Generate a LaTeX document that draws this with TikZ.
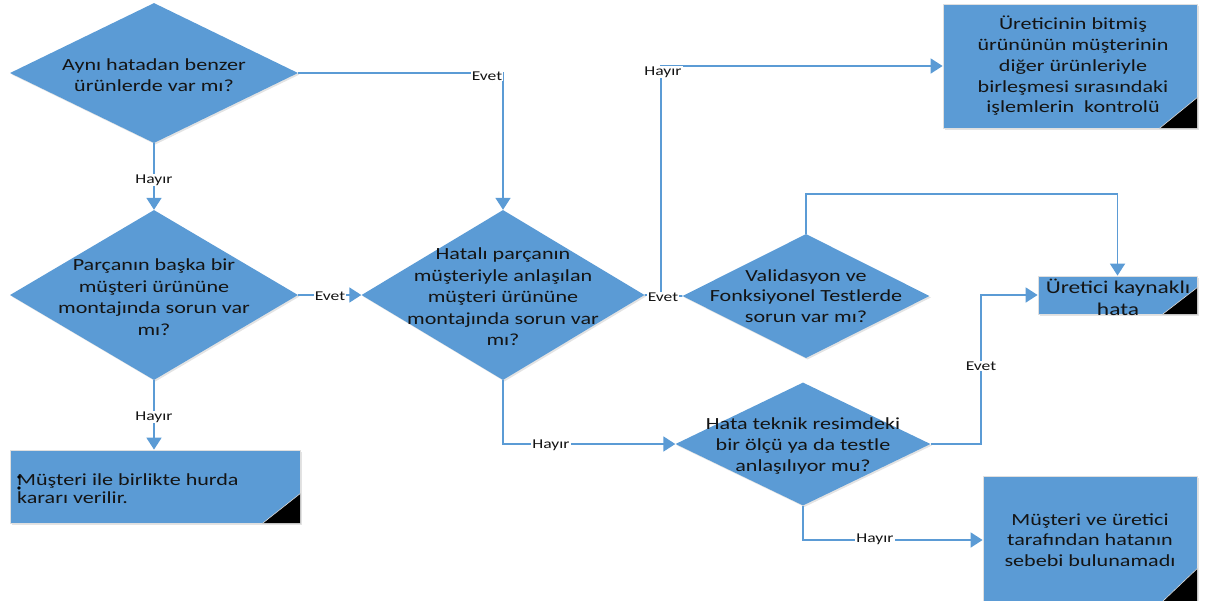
\documentclass[tikz,border=0pt]{standalone}
\usepackage{fontspec}
\setmainfont{Carlito}[FakeStretch=1.3]
\usetikzlibrary{shapes.geometric,arrows.meta,shadows}
\definecolor{fc}{HTML}{5B9BD5}
\definecolor{tc}{HTML}{141414}
\begin{document}
\begin{tikzpicture}[x=1pt,y=-1pt,
  shd/.style={drop shadow={opacity=0.22, shadow xshift=1.5pt, shadow yshift=-1.5pt}},
  dia/.style={diamond, fill=fc, draw=none, inner sep=0pt, shd},
  box/.style={rectangle, fill=fc, draw=gray!25, line width=0.8pt, inner sep=0pt, shd},
  txt/.style={text=tc, align=center, inner sep=0pt, font=\fontsize{17}{21.5}\selectfont},
  conn/.style={draw=fc, line width=1.8pt, -{Triangle[width=15pt,length=12pt]}},
  plain/.style={draw=fc, line width=1.8pt},
  lbl/.style={fill=white, text=tc, inner sep=1pt, font=\fontsize{13.5}{15}\selectfont},
  corner/.style={fill=black, draw=gray!25, line width=0.6pt}
]
\useasboundingbox (0,0) rectangle (1222,600);
\clip (0,0) rectangle (1222,600);

% diamonds
\node[dia, minimum width=288pt, minimum height=140pt] (d1) at (154,73) {};
\node[dia, minimum width=288pt, minimum height=170pt] (d2) at (154,295) {};
\node[dia, minimum width=283pt, minimum height=170pt] (d3) at (503,295) {};
\node[dia, minimum width=247pt, minimum height=124pt] (d4) at (806,296) {};
\node[dia, minimum width=255pt, minimum height=123pt] (d5) at (803,444) {};

% boxes
\node[box, minimum width=290pt, minimum height=73pt] (r1) at (155,486.5) {};
\node[box, minimum width=254pt, minimum height=124pt] (r2) at (1070,66) {};
\node[box, minimum width=159pt, minimum height=38pt] (r3) at (1117.5,295) {};
\node[box, minimum width=214pt, minimum height=128pt] (r4) at (1090,540) {};

% black corners
\fill[corner] ([xshift=-38pt]r1.south east) -- (r1.south east) -- ([yshift=30pt]r1.south east) -- cycle;
\fill[corner] ([xshift=-38pt]r2.south east) -- (r2.south east) -- ([yshift=31pt]r2.south east) -- cycle;
\fill[corner] ([xshift=-35pt]r3.south east) -- (r3.south east) -- ([yshift=27pt]r3.south east) -- cycle;
\fill[corner] ([xshift=-38pt]r4.south east) -- (r4.south east) -- ([yshift=36pt]r4.south east) -- cycle;

% texts
\node[txt] (t1) at (154,75) {Aynı hatadan benzer\\ürünlerde var mı?};
\node[txt] (t2) at (154,297) {Parçanın başka bir\\müşteri ürününe\\montajında sorun var\\mı?};
\node[txt] (t3) at (503,297) {Hatalı parçanın\\müşteriyle anlaşılan\\müşteri ürününe\\montajında sorun var\\mı?};
\node[txt, font=\fontsize{17}{20.5}\selectfont] (t4) at (806,296) {Validasyon ve\\Fonksiyonel Testlerde\\sorun var mı?};
\node[txt, font=\fontsize{17}{21}\selectfont] (t5) at (803,446) {Hata teknik resimdeki\\bir ölçü ya da testle\\anlaşılıyor mu?};
\node[txt, align=left, anchor=west, font=\fontsize{17}{18}\selectfont] (t6) at (17,489) {Müşteri ile birlikte hurda\\kararı verilir.};
\node[txt, font=\fontsize{17}{20.8}\selectfont] (t7) at (1073,66) {Üreticinin bitmiş\\ürününün müşterinin\\diğer ürünleriyle\\birleşmesi sırasındaki\\işlemlerin~ kontrolü};
\node[txt, font=\fontsize{18}{22}\selectfont] (t8) at (1118,297) {Üretici kaynaklı\\hata};
\node[txt, font=\fontsize{17}{20.5}\selectfont] (t9) at (1090,540) {Müşteri ve üretici\\tarafından hatanın\\sebebi bulunamadı};

% bullet dots
\fill[black] (19,477) circle (1.8pt);
\fill[black] (19,488) circle (1.8pt);

% connectors
\draw[conn] (d1.east) -| (d3.north);
\draw[conn] (d1.south) -- (d2.north);
\draw[conn] (d2.east) -- (d3.west);
\draw[conn] (d2.south) -- (d2.south |- r1.north);
\draw[plain] (d3.east) -- (d4.west);
\draw[conn] (d4.west) -- ++(-21,0) |- (r2.west);
\draw[conn] (d4.north) -- ++(0,-40) -| (r3.north);
\draw[conn] (d5.east) -- ++(50,0) |- (r3.west);
\draw[conn] (d3.south) |- (d5.west);
\draw[conn] (d5.south) |- (r4.west);

% labels
\node[lbl] (l1) at (487,76) {Evet};
\node[lbl] (l2) at (154,180) {Hayır};
\node[lbl] (l3) at (330,296) {Evet};
\node[lbl] (l4) at (154,417) {Hayır};
\node[lbl] (l5) at (663,297) {Evet};
\node[lbl] (l6) at (663,72) {Hayır};
\node[lbl] (l7) at (981,366) {Evet};
\node[lbl] (l8) at (551,445) {Hayır};
\node[lbl] (l9) at (875,539) {Hayır};
\end{tikzpicture}
\end{document}
